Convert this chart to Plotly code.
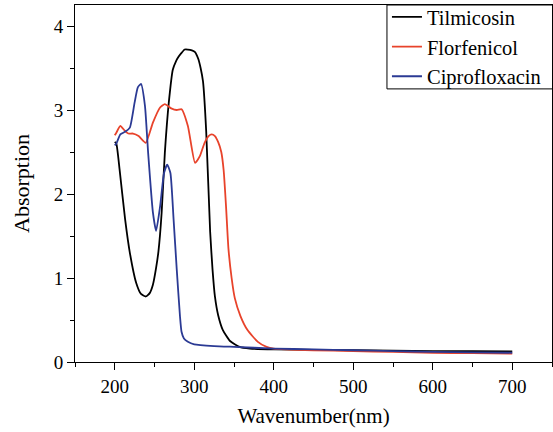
import plotly.graph_objects as go

# Tilmicosin (black)
til_x = [200, 202, 206, 213, 219, 227, 233, 239, 244, 248, 252, 255, 259, 263, 268, 273, 277, 280, 284, 288, 292, 297, 301, 305, 308, 311, 315, 320, 323, 326, 330, 336, 345, 357, 370, 400, 450, 500, 550, 600, 650, 700]
til_y = [2.62, 2.60, 2.30, 1.70, 1.30, 0.94, 0.81, 0.78, 0.82, 0.92, 1.12, 1.32, 1.78, 2.49, 3.09, 3.48, 3.58, 3.63, 3.68, 3.72, 3.72, 3.71, 3.69, 3.61, 3.50, 3.34, 2.75, 1.55, 1.10, 0.78, 0.56, 0.38, 0.25, 0.18, 0.16, 0.15, 0.145, 0.14, 0.135, 0.13, 0.13, 0.125]

# Florfenicol (red)
flo_x = [200, 202, 207, 213, 217, 223, 230, 239, 248, 257, 263, 271, 278, 284, 292, 301, 307, 313, 318, 322, 326, 330, 334, 337, 340, 343, 347, 351, 358, 367, 380, 391, 400, 450, 500, 550, 600, 650, 700]
flo_y = [2.70, 2.73, 2.81, 2.75, 2.72, 2.72, 2.69, 2.61, 2.85, 3.03, 3.07, 3.02, 3.00, 3.01, 2.81, 2.37, 2.45, 2.61, 2.69, 2.71, 2.69, 2.62, 2.50, 2.28, 1.85, 1.35, 1.00, 0.76, 0.55, 0.38, 0.24, 0.18, 0.16, 0.14, 0.13, 0.12, 0.11, 0.105, 0.10]

# Ciprofloxacin (blue)
cip_x = [200, 202, 207, 213, 219, 225, 229, 233, 238, 242, 248, 252, 257, 262, 266, 270, 274, 278, 282, 284, 287, 292, 300, 325, 350, 400, 450, 500, 550, 600, 650, 700]
cip_y = [2.58, 2.60, 2.71, 2.74, 2.79, 3.09, 3.27, 3.31, 3.05, 2.49, 1.78, 1.56, 1.85, 2.25, 2.35, 2.25, 1.70, 1.10, 0.55, 0.36, 0.28, 0.24, 0.21, 0.19, 0.18, 0.16, 0.15, 0.14, 0.13, 0.12, 0.115, 0.11]

names = ["Tilmicosin", "Florfenicol", "Ciprofloxacin"]
colors = ["#000000", "#E8432B", "#2B3A94"]

x_ticks = [200, 300, 400, 500, 600, 700]
y_ticks = [0, 1, 2, 3, 4]

FONT = "Liberation Serif, Times New Roman, serif"

fig = go.Figure()
for xs, ys, nm, col in zip([til_x, flo_x, cip_x], [til_y, flo_y, cip_y], names, colors):
    fig.add_trace(go.Scatter(x=xs, y=ys, mode="lines", name=nm,
                             line=dict(color=col, width=1.8, shape="spline", smoothing=0.5)))

fig.update_layout(
    width=553, height=432,
    margin=dict(l=75, r=1, t=5, b=70, autoexpand=False),
    paper_bgcolor="white", plot_bgcolor="white",
    font=dict(family=FONT, size=19, color="black"),
    showlegend=True,
    legend=dict(x=0.654, y=1.022, xanchor="left", yanchor="top",
                borderwidth=0, bgcolor="rgba(0,0,0,0)",
                font=dict(family=FONT, size=20.5, color="black"),
                tracegroupgap=0),
    shapes=[dict(type="rect", xref="paper", yref="paper",
                 x0=0.654, x1=1.05, y0=0.765, y1=1.0,
                 line=dict(color="black", width=1), fillcolor="white", layer="below")],
)
fig.update_xaxes(
    range=[150, 750], tickvals=x_ticks, ticktext=[str(v) for v in x_ticks],
    tickfont=dict(family=FONT, size=19, color="black"),
    showline=True, linecolor="black", linewidth=1, mirror=True,
    ticks="outside", ticklen=7, tickwidth=1, tickcolor="black",
    minor=dict(dtick=50, tick0=150, ticks="outside", ticklen=4, tickcolor="black", showgrid=False),
    showgrid=False, zeroline=False,
    title=dict(text="Wavenumber(nm)", font=dict(family=FONT, size=21), standoff=12),
)
fig.update_yaxes(
    range=[0, 4.25], tickvals=y_ticks, ticktext=[str(v) for v in y_ticks],
    tickfont=dict(family=FONT, size=19, color="black"),
    showline=True, linecolor="black", linewidth=1, mirror=True,
    ticks="outside", ticklen=7, tickwidth=1, tickcolor="black",
    minor=dict(dtick=0.5, tick0=0, ticks="outside", ticklen=4, tickcolor="black", showgrid=False),
    showgrid=False, zeroline=False,
    title=dict(text="Absorption", font=dict(family=FONT, size=22), standoff=18),
)

fig.write_html("out.html", config={"displayModeBar": False},
               post_script="document.body.style.margin='0';")
